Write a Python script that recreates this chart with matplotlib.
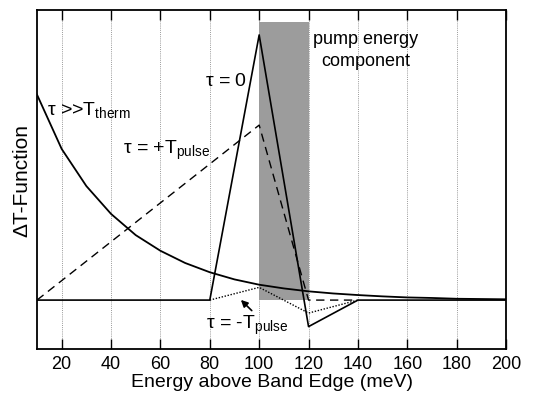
import numpy as np
import matplotlib
matplotlib.use('Agg')
import matplotlib.pyplot as plt

plt.rcParams['font.family'] = ['Liberation Sans', 'DejaVu Sans']
plt.rcParams['mathtext.fontset'] = 'custom'
plt.rcParams['mathtext.rm'] = 'Liberation Sans'
plt.rcParams['mathtext.it'] = 'Liberation Sans'

# thermalised distribution (tau >> T_therm)
therm_x = [10, 20, 30, 40, 50, 60, 70, 80, 90, 100, 110, 120, 130, 140, 150, 160, 170, 180, 190, 200]
therm_y = [0.775, 0.57, 0.43, 0.325, 0.245, 0.186, 0.14, 0.105, 0.078, 0.058, 0.044, 0.033,
           0.025, 0.019, 0.014, 0.010, 0.008, 0.005, 0.004, 0.003]

# tau = 0
zero_x = [10, 80, 100, 120, 140, 200]
zero_y = [0, 0, 1.0, -0.10, 0, 0]

# tau = +T_pulse
plus_x = [10, 100, 120, 140]
plus_y = [0, 0.66, 0, 0]

# tau = -T_pulse
minus_x = [80, 100, 120, 140]
minus_y = [0, 0.048, -0.049, 0]

pump_band = (100, 120)
pump_top = 1.048
grid_x = [20, 40, 60, 80, 100, 120, 140, 160, 180]

fig = plt.figure(figsize=(5.33, 4.02), dpi=100)
ax = fig.add_axes([0.0694, 0.129, 0.880, 0.8436])

ax.fill_between(pump_band, 0, pump_top, color='#9c9c9c', lw=0, zorder=1)
for g in grid_x:
    ax.axvline(g, color='#999999', lw=0.7, ls=(0, (1, 1.2)), zorder=0)

ax.plot(therm_x, therm_y, color='black', lw=1.3, zorder=3)
ax.plot(zero_x, zero_y, color='black', lw=1.2, zorder=3)
ax.plot(plus_x, plus_y, color='black', lw=1.0, ls=(0, (6, 4)), zorder=3)
ax.plot(minus_x, minus_y, color='black', lw=1.0, ls=(0, (1, 1.2)), zorder=3)

ax.set_xlim(10, 200)
ax.set_ylim(-0.185, 1.094)
ax.set_xticks([20, 40, 60, 80, 100, 120, 140, 160, 180, 200])
ax.set_yticks([])
ax.tick_params(axis='x', direction='in', top=True, length=7, width=1,
               labelsize=13, pad=4)
for s in ax.spines.values():
    s.set_linewidth(1.3)

ax.set_xlabel('Energy above Band Edge (meV)', fontsize=14, labelpad=1)
ax.set_ylabel('\u0394T-Function', fontsize=15, labelpad=4)

ax.text(143, 0.985, 'pump energy', ha='center', va='center', fontsize=13)
ax.text(143, 0.905, 'component', ha='center', va='center', fontsize=13)
ax.text(78, 0.83, r'$\tau$ = 0', ha='left', va='center', fontsize=14)
ax.text(14, 0.72, r'$\tau$ >>T$_{\mathrm{therm}}$', ha='left', va='center', fontsize=14)
ax.text(45, 0.57, r'$\tau$ = +T$_{\mathrm{pulse}}$', ha='left', va='center', fontsize=14)
ax.text(78.5, -0.09, r'$\tau$ = -T$_{\mathrm{pulse}}$', ha='left', va='center', fontsize=14)
ax.annotate('', xy=(91.8, 0.008), xytext=(97.8, -0.047),
            arrowprops=dict(arrowstyle='-|>', color='black', lw=1.2, mutation_scale=10))

fig.savefig('out.png', dpi=100)
